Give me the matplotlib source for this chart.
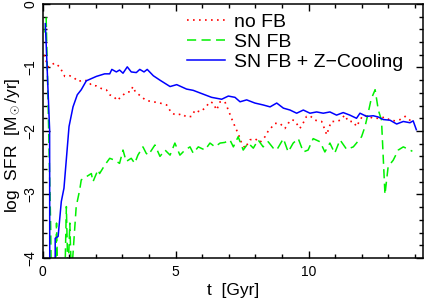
import matplotlib
matplotlib.use('Agg')
import matplotlib.pyplot as plt
from matplotlib.ticker import MultipleLocator

plt.rcParams['font.family'] = ['Liberation Sans', 'DejaVu Sans']
plt.rcParams['mathtext.fontset'] = 'custom'
plt.rcParams['mathtext.rm'] = 'Liberation Sans'
plt.rcParams['mathtext.it'] = 'Liberation Sans'

# no feedback run
t_nofb = [0.05, 0.20, 0.45, 0.64, 0.83, 1.02, 1.20, 1.33, 1.52, 1.70,
          1.83, 2.02, 2.20, 2.39, 2.52, 2.68, 2.80, 2.95, 3.14, 3.31,
          3.39, 3.48, 3.71, 3.89, 4.16, 4.41, 4.66, 4.85, 5.04, 5.23,
          5.41, 5.60, 5.73, 5.91, 6.10, 6.29, 6.41, 6.54, 6.67, 6.85,
          6.98, 7.10, 7.23, 7.35, 7.48, 7.61, 7.79, 7.98, 8.17, 8.36,
          8.48, 8.61, 8.73, 8.92, 9.11, 9.23, 9.36, 9.48, 9.67, 9.80,
          9.92, 10.05, 10.24, 10.49, 10.61, 10.68, 10.78, 10.86, 11.05, 11.18,
          11.36, 11.49, 11.68, 11.80, 11.93, 12.05, 12.24, 12.43, 12.68, 12.87,
          13.06, 13.25, 13.44, 13.63, 13.81, 13.93]
sfr_nofb = [-0.80, -0.99, -0.93, -0.99, -1.14, -1.13, -1.17, -1.22, -1.20, -1.21,
            -1.28, -1.29, -1.33, -1.35, -1.43, -1.46, -1.52, -1.46, -1.39, -1.38,
            -1.30, -1.38, -1.46, -1.52, -1.54, -1.56, -1.59, -1.72, -1.75, -1.73,
            -1.78, -1.77, -1.67, -1.70, -1.64, -1.54, -1.56, -1.67, -1.54, -1.54,
            -1.67, -1.80, -1.93, -2.04, -2.19, -2.27, -2.14, -2.12, -2.18, -2.09,
            -2.00, -1.94, -1.88, -1.88, -1.96, -1.88, -1.82, -1.84, -1.96, -1.87,
            -1.77, -1.76, -1.83, -1.85, -1.98, -2.06, -1.93, -1.85, -1.85, -1.83,
            -1.75, -1.85, -1.85, -1.93, -1.83, -1.75, -1.77, -1.80, -1.80, -1.78,
            -1.83, -1.84, -1.82, -1.77, -1.83, -1.85]

# SN feedback run
t_sn = [0.08, 0.13, 0.20, 0.30, 0.34, 0.45, 0.52, 0.58, 0.80, 0.89,
        0.95, 1.02, 1.08, 1.26, 1.39, 1.45, 1.64, 1.83, 1.89, 2.08,
        2.14, 2.33, 2.52, 2.71, 2.89, 3.02, 3.14, 3.33, 3.46, 3.58,
        3.77, 3.89, 3.97, 4.22, 4.41, 4.60, 4.79, 4.97, 5.16, 5.35,
        5.54, 5.66, 5.85, 6.10, 6.29, 6.48, 6.67, 6.85, 7.04, 7.17,
        7.35, 7.54, 7.73, 7.92, 8.10, 8.29, 8.48, 8.67, 8.80, 9.05,
        9.23, 9.42, 9.61, 9.80, 9.98, 10.17, 10.43, 10.61, 10.80, 10.98,
        11.18, 11.43, 11.68, 11.80, 11.99, 12.12, 12.21, 12.35, 12.50, 12.62,
        12.74, 12.87, 12.99, 13.18, 13.37, 13.56, 13.81, 13.90]
sfr_sn = [-0.45, -0.22, -1.50, -3.50, -5.00, -5.00, -3.45, -4.60, -5.00, -3.19,
          -4.30, -3.45, -4.30, -3.19, -2.93, -2.77, -2.72, -2.67, -2.80, -2.61,
          -2.67, -2.54, -2.43, -2.46, -2.51, -2.30, -2.48, -2.43, -2.51, -2.38,
          -2.25, -2.35, -2.38, -2.22, -2.40, -2.30, -2.38, -2.19, -2.38, -2.30,
          -2.25, -2.35, -2.25, -2.30, -2.19, -2.25, -2.19, -2.18, -2.14, -2.25,
          -2.09, -2.30, -2.19, -2.27, -2.14, -2.25, -2.17, -2.27, -2.30, -2.12,
          -2.33, -2.19, -2.12, -2.33, -2.30, -2.12, -2.17, -2.33, -2.19, -2.35,
          -2.14, -2.29, -2.25, -2.19, -2.09, -1.93, -1.77, -1.50, -1.35, -1.67,
          -1.83, -3.00, -2.56, -2.46, -2.30, -2.25, -2.30, -2.32]

# SN feedback + metal cooling run
t_snz = [0.10, 0.26, 0.27, 0.47, 0.47, 0.58, 0.70, 0.80, 0.99, 1.14,
         1.30, 1.45, 1.64, 2.02, 2.33, 2.52, 2.60, 2.77, 2.89, 3.02,
         3.18, 3.33, 3.52, 3.65, 3.81, 3.93, 4.16, 4.41, 4.79, 5.04,
         5.41, 5.66, 5.91, 6.35, 6.73, 6.98, 7.23, 7.42, 7.67, 7.98,
         8.29, 8.55, 8.80, 9.05, 9.30, 9.55, 9.80, 10.05, 10.30, 10.55,
         10.80, 11.05, 11.30, 11.55, 11.80, 11.93, 12.18, 12.43, 12.62, 12.81,
         13.06, 13.31, 13.56, 13.81, 13.93, 14.05]
sfr_snz = [-0.31, -1.98, -6.00, -6.00, -3.69, -3.66, -3.11, -2.90, -1.93, -1.62,
           -1.43, -1.35, -1.21, -1.14, -1.10, -1.10, -1.03, -1.07, -1.04, -1.09,
           -0.99, -1.07, -1.08, -1.03, -1.07, -1.03, -1.13, -1.20, -1.30, -1.27,
           -1.34, -1.36, -1.40, -1.47, -1.50, -1.45, -1.47, -1.54, -1.51, -1.56,
           -1.59, -1.62, -1.56, -1.64, -1.67, -1.72, -1.67, -1.72, -1.70, -1.72,
           -1.70, -1.75, -1.71, -1.75, -1.80, -1.72, -1.77, -1.76, -1.78, -1.82,
           -1.83, -1.89, -1.85, -1.87, -1.84, -1.98]

fig = plt.figure(figsize=(4.24, 3.0), dpi=100)
ax = fig.add_axes([0.1007, 0.14, 0.8963, 0.8467])

ax.plot(t_nofb, sfr_nofb, color='#ff0000', lw=1.2, linestyle=(0, (1.0, 2.6)),
        label='no FB')
ax.plot(t_sn, sfr_sn, color='#00f000', lw=1.1, linestyle=(0, (6, 3.5)),
        label='SN FB')
ax.plot(t_snz, sfr_snz, color='#0000ff', lw=1.1, label='SN FB + Z\u2212Cooling')

ax.set_xlim(0, 14.29)
ax.set_ylim(-4, 0)
ax.xaxis.set_major_locator(MultipleLocator(5))
ax.xaxis.set_minor_locator(MultipleLocator(1))
ax.yaxis.set_major_locator(MultipleLocator(1))
ax.yaxis.set_minor_locator(MultipleLocator(0.2))
ax.tick_params(which='both', direction='in', top=True, right=True, width=1.0)
ax.tick_params(which='major', length=5)
ax.tick_params(which='minor', length=3)
ax.tick_params(axis='x', labelsize=10, pad=5)
ax.tick_params(axis='y', labelsize=10, pad=4)
ylabs = ax.get_yticklabels()
for lab in ylabs:
    lab.set_rotation(90)
    lab.set_va('center')
ylabs[0].set_va('bottom')
for s in ax.spines.values():
    s.set_linewidth(1.1)

ax.set_xlabel('t  [Gyr]', fontsize=12.5, labelpad=3)
ax.set_ylabel('log  SFR  [M$_\\odot$/yr]', fontsize=12.5)
ax.yaxis.set_label_coords(-0.055, 0.445)

ax.legend(loc='upper left', bbox_to_anchor=(0.38, 0.962), frameon=False,
          fontsize=14, handlelength=1.95, handletextpad=0.45,
          labelspacing=0.12, borderpad=0, borderaxespad=0)

fig.savefig('out.png', dpi=100)
